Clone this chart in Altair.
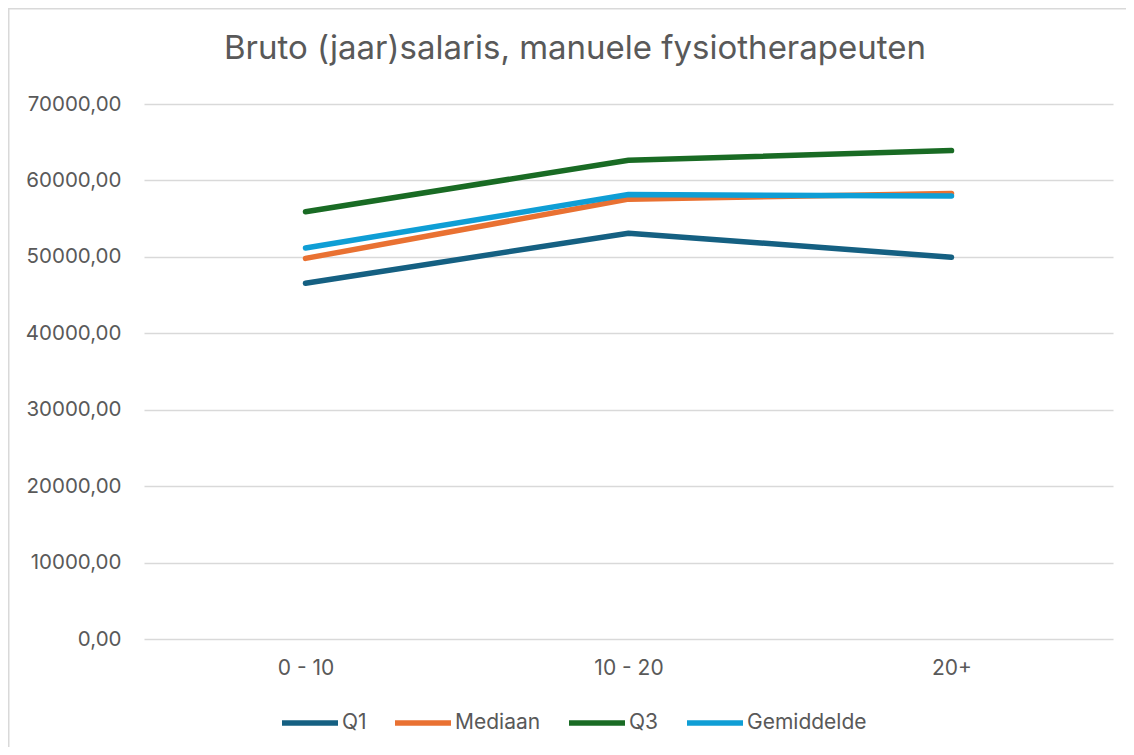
import altair as alt
import pandas as pd

categories = ["0 - 10", "10 - 20", "20+"]
series_names = ["Q1", "Mediaan", "Q3", "Gemiddelde"]
q1 = [46550, 53100, 49950]
mediaan = [49800, 57550, 58300]
q3 = [55900, 62650, 63900]
gemiddelde = [51150, 58150, 57950]
colors = ["#156082", "#E97132", "#196B24", "#0F9ED5"]
y_ticks = [0, 10000, 20000, 30000, 40000, 50000, 60000, 70000]
title_text = "Bruto (jaar)salaris, manuele fysiotherapeuten"

rows = []
for name, vals in zip(series_names, [q1, mediaan, q3, gemiddelde]):
    for c, v in zip(categories, vals):
        rows.append({"Ervaring": c, "Serie": name, "Salaris": v})
df = pd.DataFrame(rows)

FONT = "Inter"
GREY = "#595959"
W, H = 969, 535
PL, PT = 136, 96

lines = alt.Chart(df).mark_line(strokeWidth=5.5, strokeCap="round", strokeJoin="round").encode(
    x=alt.X("Ervaring:N", sort=categories,
            scale=alt.Scale(type="point", padding=0.5),
            axis=alt.Axis(title=None, labelAngle=0, labelFontSize=21, labelColor=GREY,
                          labelFont=FONT, ticks=False, domain=False, grid=False,
                          labelPadding=18)),
    y=alt.Y("Salaris:Q", scale=alt.Scale(domain=[0, 70000], nice=False),
            axis=alt.Axis(title=None, values=y_ticks, labelFontSize=20.5, labelColor=GREY,
                          labelFont=FONT, ticks=False, domain=False, gridColor="#d9d9d9",
                          gridWidth=1.5, labelPadding=23,
                          labelExpr="replace(format(datum.value, '.2f'), '.', ',')")),
    color=alt.Color("Serie:N", sort=series_names,
                    scale=alt.Scale(domain=series_names, range=colors),
                    legend=alt.Legend(title=None, orient="none", direction="horizontal",
                                      legendX=135, legendY=588, symbolType="stroke",
                                      symbolSize=3136, symbolStrokeWidth=5.5,
                                      labelFontSize=21, labelColor=GREY, labelFont=FONT,
                                      labelOffset=1, columnPadding=17)),
    order=alt.Order("Ervaring:N"),
)

border = alt.Chart(pd.DataFrame({"a": [0]})).mark_rect(
    fill=None, stroke="#d9d9d9", strokeWidth=1.5
).encode(
    x=alt.value(-PL + 0.75), x2=alt.value(W + 40),
    y=alt.value(-PT + 0.75), y2=alt.value(H + 140),
)

title = alt.Chart(pd.DataFrame({"t": [title_text]})).mark_text(
    font=FONT, fontSize=33, color=GREY, align="center", baseline="alphabetic"
).encode(
    text="t:N", x=alt.value(575 - 144), y=alt.value(59 - 104),
)

chart = alt.layer(border, lines, title).properties(
    width=W, height=H,
    autosize=alt.AutoSizeParams(type="none"),
    padding={"left": PL, "top": PT, "right": 13, "bottom": 108},
).configure_view(stroke=None)

chart.save("out.html", embed_options={"renderer": "svg", "actions": False})
